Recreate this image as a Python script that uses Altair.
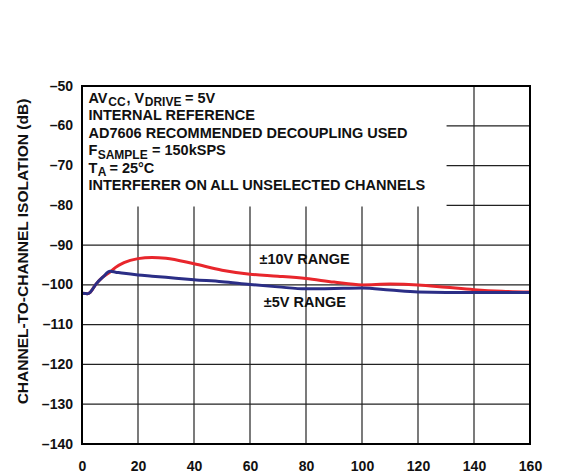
import altair as alt
import pandas as pd

# ---- data ----
freq_khz = [0, 2, 3, 5, 7.5, 10, 12, 15, 20, 25, 30, 40, 50, 60, 70, 80, 90, 100, 110, 120, 130, 140, 150, 160]
iso_10v = [-102.1, -102.2, -101.8, -99.8, -98.0, -96.8, -95.6, -94.4, -93.4, -93.1, -93.3, -94.7, -96.3, -97.3,
           -97.8, -98.4, -99.3, -100.0, -99.8, -100.0, -100.6, -101.2, -101.6, -101.8]
iso_5v = [-102.1, -102.2, -101.8, -99.8, -98.0, -96.6, -96.8, -97.1, -97.5, -97.8, -98.1, -98.7, -99.2, -99.9,
          -100.5, -101.0, -100.9, -100.8, -101.3, -101.8, -101.9, -101.9, -101.9, -101.9]

x_ticks = [0, 20, 40, 60, 80, 100, 120, 140, 160]
y_ticks = [-140, -130, -120, -110, -100, -90, -80, -70, -60, -50]

# annotation box text (kHz, dB of baseline)
main_text = ["AV", ", V", "= 5V", "INTERNAL REFERENCE", "AD7606 RECOMMENDED DECOUPLING USED",
             "F", "= 150kSPS", "T", "= 25°C", "INTERFERER ON ALL UNSELECTED CHANNELS"]
main_x = [2.3, 15.9, 36.8, 2.3, 2.3, 2.3, 25.0, 2.3, 9.8, 2.3]
main_y = [-54.15, -54.15, -54.15, -58.55, -62.95, -67.35, -67.35, -71.75, -71.75, -76.15]
sub_text = ["CC", "DRIVE", "SAMPLE", "A"]
sub_x = [9.4, 22.4, 5.6, 5.6]
sub_y = [-55.05, -55.05, -68.25, -72.65]

range_text = ["±10V RANGE", "±5V RANGE"]
range_x = [79.5, 79.6]
range_y = [-93.8, -104.6]

# white box behind the conditions text
box_x = [0, 130.2]
box_y = [-50, -80.3]

# ---- tables ----
curves = pd.concat([
    pd.DataFrame({"freq": freq_khz, "iso": iso_10v, "series": "±10V"}),
    pd.DataFrame({"freq": freq_khz, "iso": iso_5v, "series": "±5V"}),
])
df_10 = curves[curves.series == "±10V"]
df_5 = curves[curves.series == "±5V"]
vgrid = pd.DataFrame({"x": x_ticks[1:-1], "y": y_ticks[0], "y2": y_ticks[-1]})
hgrid = pd.DataFrame({"y": y_ticks[1:-1], "x": x_ticks[0], "x2": x_ticks[-1]})
box = pd.DataFrame({"x": [box_x[0]], "x2": [box_x[1]], "y": [box_y[0]], "y2": [box_y[1]]})
frame = pd.DataFrame({"x": [x_ticks[0]], "x2": [x_ticks[-1]], "y": [y_ticks[0]], "y2": [y_ticks[-1]]})
main_df = pd.DataFrame({"t": main_text, "x": main_x, "y": main_y})
sub_df = pd.DataFrame({"t": sub_text, "x": sub_x, "y": sub_y})
range_df = pd.DataFrame({"t": range_text, "x": range_x, "y": range_y})

W, H = 448, 358
FONT = "Liberation Sans"

xs = alt.Scale(domain=[0, 160], nice=False, zero=False)
ys = alt.Scale(domain=[-140, -50], nice=False, zero=False)

x_axis = alt.Axis(values=x_ticks, grid=False, domain=False, ticks=False, tickSize=0,
                  labelFont=FONT, labelFontWeight="bold", labelFontSize=14, labelColor="#111",
                  labelPadding=15, labelFlush=False, labelOverlap=False, title="")
y_axis = alt.Axis(values=y_ticks, grid=False, domain=False, ticks=False, tickSize=0,
                  labelFont=FONT, labelFontWeight="bold", labelFontSize=14, labelColor="#111",
                  labelPadding=9.5, labelOverlap=False, labelFlush=False,
                  labelExpr="replace(datum.label, '−', '–')",
                  title="CHANNEL-TO-CHANNEL ISOLATION (dB)", titleFont=FONT, titleFontWeight="bold",
                  titleFontSize=15.5, titleColor="#111", titleX=-60, titleY=165, titleBaseline="middle")


def X(field):
    return alt.X(field, scale=xs, axis=x_axis)


def Y(field):
    return alt.Y(field, scale=ys, axis=y_axis)


vg = alt.Chart(vgrid).mark_rule(color="#222", strokeWidth=1.2).encode(
    x=X("x:Q"), y=Y("y:Q"), y2="y2:Q")
hg = alt.Chart(hgrid).mark_rule(color="#222", strokeWidth=1.2).encode(
    y=Y("y:Q"), x=X("x:Q"), x2="x2:Q")
wbox = alt.Chart(box).mark_rect(color="white").encode(
    x=X("x:Q"), x2="x2:Q", y=Y("y:Q"), y2="y2:Q")

red = alt.Chart(df_10).mark_line(color="#E8262C", strokeWidth=3, interpolate="monotone").encode(
    x=X("freq:Q"), y=Y("iso:Q"))
blue = alt.Chart(df_5).mark_line(color="#2B2E86", strokeWidth=3, interpolate="monotone").encode(
    x=X("freq:Q"), y=Y("iso:Q"))

main_t = alt.Chart(main_df).mark_text(font=FONT, fontWeight="bold", fontSize=14.5, align="left",
                                      baseline="alphabetic", color="#111").encode(
    x=X("x:Q"), y=Y("y:Q"), text="t:N")
sub_t = alt.Chart(sub_df).mark_text(font=FONT, fontWeight="bold", fontSize=12, align="left",
                                    baseline="alphabetic", color="#111").encode(
    x=X("x:Q"), y=Y("y:Q"), text="t:N")
range_t = alt.Chart(range_df).mark_text(font=FONT, fontWeight="bold", fontSize=14.5, align="center",
                                        baseline="middle", color="#111").encode(
    x=X("x:Q"), y=Y("y:Q"), text="t:N")

frm = alt.Chart(frame).mark_rect(filled=False, stroke="#000", strokeWidth=2).encode(
    x=X("x:Q"), x2="x2:Q", y=Y("y:Q"), y2="y2:Q")

chart = alt.layer(vg, hg, wbox, red, blue, main_t, sub_t, range_t, frm).properties(
    width=W, height=H,
    autosize=alt.AutoSizeParams(type="none"),
    padding={"left": 74, "top": 78, "right": 24, "bottom": 30},
).configure_view(stroke=None).configure(background="white")

chart.save("out.html", embed_options={"renderer": "svg", "actions": False})
